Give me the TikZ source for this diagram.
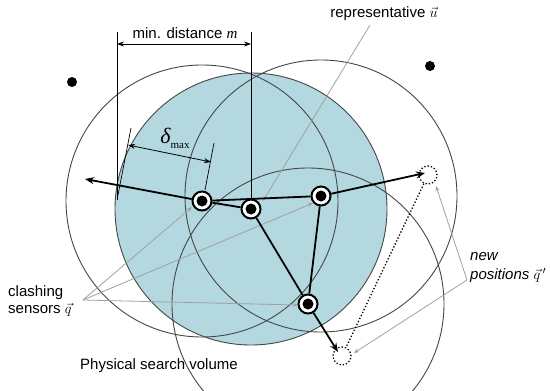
\documentclass[tikz,border=0pt]{standalone}
\usepackage{fontspec}
\setmainfont{Liberation Sans}
\newfontfamily\tmsfont{Liberation Serif}
\usetikzlibrary{arrows.meta}
\definecolor{searchblue}{RGB}{180,216,224}
\definecolor{circline}{RGB}{70,70,70}
\definecolor{annot}{RGB}{160,160,160}
\tikzset{
  sensor/.style={circle,draw,line width=2pt,fill=white,minimum size=19pt,inner sep=0pt,
    path picture={\fill[black] (path picture bounding box.center) circle (5.5pt);}},
  newpos/.style={circle,draw,dotted,line width=1.3pt,minimum size=18pt,inner sep=0pt},
  rangecirc/.style={draw=circline,line width=0.9pt},
  heavy/.style={line width=1.8pt},
  heavyarrow/.style={line width=1.8pt,-{Stealth[length=9pt,width=7pt]}},
  annotline/.style={draw=annot,line width=0.8pt,-{Stealth[length=5pt,width=4pt]}},
  dimline/.style={line width=0.7pt},
  dimarrow/.style={line width=0.8pt,{Stealth[length=7pt,width=5pt]}-{Stealth[length=7pt,width=5pt]}},
  lbl/.style={font=\fontsize{15}{17}\selectfont,inner sep=0pt}
}
\begin{document}
\begin{tikzpicture}[x=1pt,y=-1pt]
\useasboundingbox (0,0) rectangle (550,391);
% sensor positions
\coordinate (pA) at (202,201);
\coordinate (pB) at (251,209);
\coordinate (pC) at (321,196);
\coordinate (pD) at (308,304);
% search volume fill
\fill[searchblue] (pB) circle (136);
% range circles
\draw[rangecirc] (pB) circle (136);
\draw[rangecirc] (pA) circle (136);
\draw[rangecirc] (pC) circle (136);
\draw[rangecirc] (pD) circle (136);
% far dots
\node[circle,fill=black,minimum size=10pt,inner sep=0pt] (d1) at (72,82) {};
\node[circle,fill=black,minimum size=10pt,inner sep=0pt] (d2) at (430,66) {};
% min distance dimension
\coordinate (mL1) at (117,32);
\coordinate (mL2) at (117,200);
\coordinate (mR1) at (251,32);
\coordinate (mL) at (117,44);
\coordinate (mR) at (251,44);
\draw[dimline] (mL1) -- (mL2);
\draw[dimarrow] (mL) -- (mR);
\node[lbl] (mlab) at (185,33) {min. distance {\tmsfont\itshape m}};
% delta max dimension
\coordinate (e1a) at (131,128);
\coordinate (e1b) at (118,195);
\coordinate (e2a) at (214,143);
\coordinate (e2b) at (205,190);
\coordinate (dL) at (128,145);
\coordinate (dR) at (211,162);
\draw[dimline] (e1a) -- (e1b);
\draw[dimline] (e2a) -- (e2b);
\draw[dimarrow] (dL) -- (dR);
\node[lbl] (dlab) at (175,138) {{\tmsfont\itshape\fontsize{22}{24}\selectfont δ}\raisebox{-5pt}{\tmsfont\fontsize{11}{12}\selectfont max}};
% new positions
\node[newpos] (Q1) at (428,175) {};
\node[newpos] (Q2) at (342,356) {};
\draw[dotted,line width=1.3pt] (Q1) -- (Q2);
% sensors
\node[sensor] (A) at (pA) {};
\node[sensor] (B) at (pB) {};
\node[sensor] (C) at (pC) {};
\node[sensor] (D) at (pD) {};
\draw[dimline] (mR1) -- (B);
% labels
\node[lbl] (ulab) at (384,14) {representative $\vec{u}$};
\node[lbl,align=left,anchor=west] (qlab) at (8,301) {clashing\\sensors $\vec{q}$};
\node[lbl] (plab) at (159,366) {Physical search volume};
\node[lbl,align=left,anchor=west,font=\fontsize{15}{19}\selectfont\itshape] (nlab) at (470,268) {new\\positions $\vec{q}\,'$};
% annotation lines
\coordinate (uS) at (370,25);
\coordinate (uT) at (263,201);
\draw[annotline] (uS) -- (uT);
\coordinate (qS) at (83,300);
\coordinate (qT1) at (192,207);
\coordinate (qT2) at (313,203);
\coordinate (qT3) at (298,305);
\draw[annotline] (qS) -- (qT1);
\draw[annotline] (qS) -- (qT2);
\draw[annotline] (qS) -- (qT3);
\coordinate (nS) at (467,280);
\coordinate (nT1) at (436,186);
\coordinate (nT2) at (354,353);
\draw[annotline] (nS) -- (nT1);
\draw[annotline] (nS) -- (nT2);
% heavy moves
\coordinate (tL) at (85,179);
\coordinate (t1) at (425,173);
\coordinate (t2) at (338,352);
\draw[heavyarrow] (A) -- (tL);
\draw[heavy] (A) -- (B);
\draw[heavy] (A) -- (C);
\draw[heavy] (B) -- (D);
\draw[heavy] (C) -- (D);
\draw[heavyarrow] (C) -- (t1);
\draw[heavyarrow] (D) -- (t2);
\end{tikzpicture}
\end{document}
